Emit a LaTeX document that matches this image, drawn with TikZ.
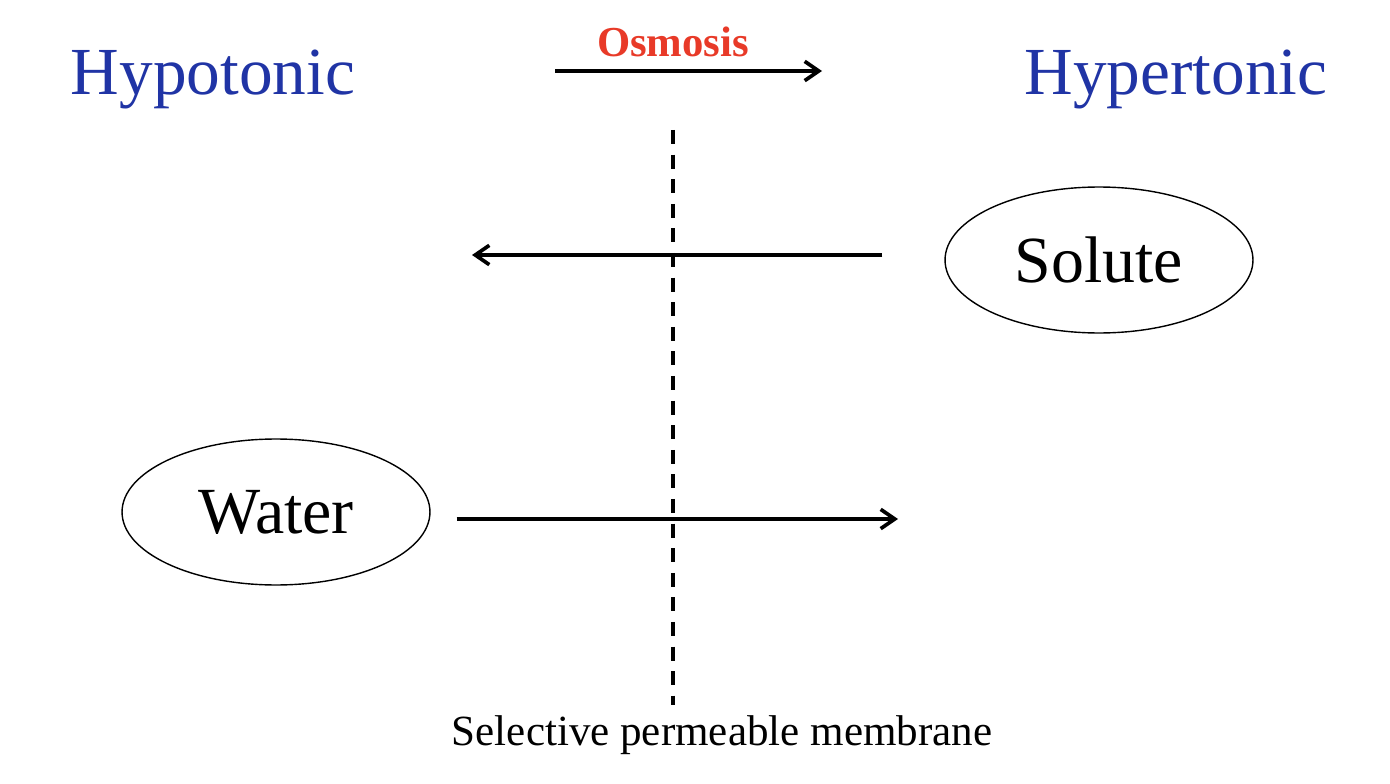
\documentclass[tikz,border=0pt]{standalone}
\usepackage{fontspec}
\setmainfont{Liberation Serif}
\usetikzlibrary{arrows.meta,shapes.geometric}
\definecolor{tonicblue}{RGB}{32,52,165}
\definecolor{osmored}{RGB}{232,58,40}

\begin{document}
\begin{tikzpicture}[
x=0.02cm, y=-0.02cm,
side/.style={text=tonicblue, font=\fontsize{38.3}{40}\selectfont, anchor=base, inner sep=0},
particle/.style={ellipse, draw, line width=0.8pt, minimum width=6.16cm, minimum height=2.92cm, inner sep=0, font=\fontsize{37.5}{40}\selectfont},
flow/.style={line width=2.1pt, -{Straight Barb[length=8pt,width=11pt]}},
membrane/.style={line width=2.1pt, dash pattern=on 8pt off 6pt},
]
\useasboundingbox (0,0) rectangle (1390,784);

% sides
\node[side] (hypo) at (213,95) {Hypotonic};
\node[side] (hyper) at (1176,95) {Hypertonic};

% osmosis direction
\node[anchor=base, inner sep=0, text=osmored, font=\fontsize{24.3}{26}\selectfont\bfseries] (osmosis) at (673,57) {Osmosis};
\coordinate (osmstart) at (555,71);
\coordinate (osmend) at (822,71);
\draw[flow] (osmstart) -- (osmend);

% membrane
\coordinate (memtop) at (673,130);
\coordinate (membot) at (673,705);
\draw[membrane] (memtop) -- (membot);
\node[anchor=base, inner sep=0, font=\fontsize{24.5}{26}\selectfont] (memlabel) at (722,745) {Selective permeable membrane};

% particles
\node[particle] (solute) at (1099,260) {Solute};
\node[particle] (water) at (276,512) {Water};
\coordinate (solutetip) at (472,255);
\coordinate (watertip) at (898,519);
\draw[flow, shorten <=1.24cm] (solute.west |- solutetip) -- (solutetip);
\draw[flow, shorten <=0.52cm] (water.east |- watertip) -- (watertip);
\end{tikzpicture}
\end{document}
